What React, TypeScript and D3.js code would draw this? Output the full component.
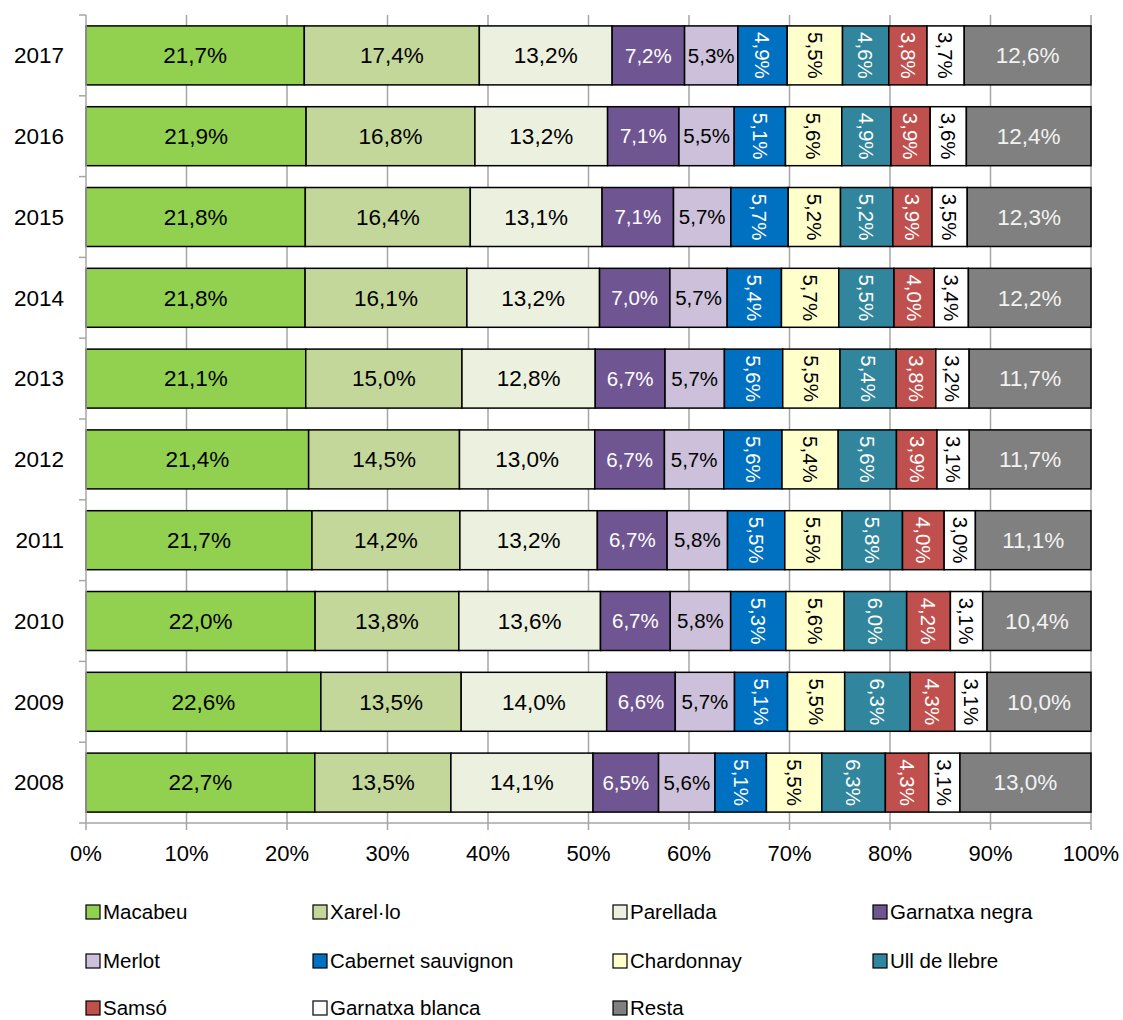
import React, { useEffect, useRef } from 'react';
import * as d3 from 'd3';

// data
const years = ['2017', '2016', '2015', '2014', '2013', '2012', '2011', '2010', '2009', '2008'];
const varieties = ['Macabeu', 'Xarel·lo', 'Parellada', 'Garnatxa negra', 'Merlot', 'Cabernet sauvignon', 'Chardonnay', 'Ull de llebre', 'Samsó', 'Garnatxa blanca', 'Resta'];
const values: number[][] = [
    [21.7, 17.4, 13.2, 7.2, 5.3, 4.9, 5.5, 4.6, 3.8, 3.7, 12.6],
    [21.9, 16.8, 13.2, 7.1, 5.5, 5.1, 5.6, 4.9, 3.9, 3.6, 12.4],
    [21.8, 16.4, 13.1, 7.1, 5.7, 5.7, 5.2, 5.2, 3.9, 3.5, 12.3],
    [21.8, 16.1, 13.2, 7.0, 5.7, 5.4, 5.7, 5.5, 4.0, 3.4, 12.2],
    [21.1, 15.0, 12.8, 6.7, 5.7, 5.6, 5.5, 5.4, 3.8, 3.2, 11.7],
    [21.4, 14.5, 13.0, 6.7, 5.7, 5.6, 5.4, 5.6, 3.9, 3.1, 11.7],
    [21.7, 14.2, 13.2, 6.7, 5.8, 5.5, 5.5, 5.8, 4.0, 3.0, 11.1],
    [22.0, 13.8, 13.6, 6.7, 5.8, 5.3, 5.6, 6.0, 4.2, 3.1, 10.4],
    [22.6, 13.5, 14.0, 6.6, 5.7, 5.1, 5.5, 6.3, 4.3, 3.1, 10.0],
    [22.7, 13.5, 14.1, 6.5, 5.6, 5.1, 5.5, 6.3, 4.3, 3.1, 13.0],
];
const xTicks = [0, 0.1, 0.2, 0.3, 0.4, 0.5, 0.6, 0.7, 0.8, 0.9, 1];

const colors = ['#92D050', '#C4D79B', '#EBF1DE', '#6F5592', '#CCC0DA', '#0070C0', '#FFFFCC', '#31859C', '#C0504D', '#FFFFFF', '#808080'];
const labelColors = ['#000', '#000', '#000', '#fff', '#000', '#fff', '#000', '#fff', '#fff', '#000', '#F2F2F2'];
const rotated = [false, false, false, false, false, true, true, true, true, true, false];
const labelSizes = [22.5, 22.5, 22.5, 20.5, 20.5, 20.5, 20.5, 20.5, 20.5, 20.5, 22.5];

const W = 1123, H = 1020;
const FONT = 'Liberation Sans, Arial, sans-serif';

const App = () => {
    const svgRef = useRef<SVGSVGElement>(null);

    useEffect(() => {
        const svg = d3.select(svgRef.current);
        svg.selectAll('*').remove();

        const x = d3.scaleLinear().domain([0, 1]).range([86, 1091]);
        const y = d3.scaleBand().domain(years).range([15, 823]).paddingInner(0.27).paddingOuter(0.135);
        const yEdges = d3.scaleLinear().domain([0, years.length]).range([15, 823]);

        // gridlines
        svg.append('g').selectAll('line')
            .data(xTicks.slice(1))
            .enter().append('line')
            .attr('x1', d => x(d)).attr('x2', d => x(d))
            .attr('y1', 15).attr('y2', 823)
            .attr('stroke', '#A6A6A6').attr('stroke-width', 1.5);

        // stacked rows (100% stacked)
        const rows = years.map((yr, i) => {
            const total = d3.sum(values[i]);
            let acc = 0;
            return values[i].map((v, j) => {
                const x0 = acc / total;
                acc += v;
                return { yr, j, v, x0, x1: acc / total };
            });
        });

        const seg = svg.append('g').selectAll('g')
            .data(rows.flat())
            .enter().append('g');

        seg.append('rect')
            .attr('x', d => x(d.x0))
            .attr('y', d => y(d.yr)!)
            .attr('width', d => x(d.x1) - x(d.x0))
            .attr('height', y.bandwidth())
            .attr('fill', d => colors[d.j])
            .attr('stroke', '#000')
            .attr('stroke-width', 1.5);

        seg.append('text')
            .attr('transform', d => {
                const cx = (x(d.x0) + x(d.x1)) / 2;
                const cy = y(d.yr)! + y.bandwidth() / 2;
                return `translate(${cx},${cy})${rotated[d.j] ? ' rotate(90)' : ''}`;
            })
            .attr('text-anchor', 'middle')
            .attr('dy', '0.35em')
            .attr('font-family', FONT)
            .attr('font-size', d => labelSizes[d.j])
            .attr('fill', d => labelColors[d.j])
            .text(d => d.v.toFixed(1).replace('.', ',') + '%');

        // axes
        const axisColor = '#A6A6A6';
        svg.append('line')
            .attr('x1', 86).attr('x2', 86).attr('y1', 15).attr('y2', 823)
            .attr('stroke', axisColor).attr('stroke-width', 1.5);
        svg.append('line')
            .attr('x1', 86).attr('x2', 1091).attr('y1', 823).attr('y2', 823)
            .attr('stroke', axisColor).attr('stroke-width', 1.5);
        svg.append('g').selectAll('line')
            .data(d3.range(years.length + 1))
            .enter().append('line')
            .attr('x1', 79).attr('x2', 86)
            .attr('y1', d => yEdges(d)).attr('y2', d => yEdges(d))
            .attr('stroke', axisColor).attr('stroke-width', 1.5);
        svg.append('g').selectAll('line')
            .data(xTicks)
            .enter().append('line')
            .attr('x1', d => x(d)).attr('x2', d => x(d))
            .attr('y1', 823).attr('y2', 830)
            .attr('stroke', axisColor).attr('stroke-width', 1.5);

        svg.append('g').selectAll('text')
            .data(xTicks)
            .enter().append('text')
            .attr('x', d => x(d)).attr('y', 861)
            .attr('text-anchor', 'middle')
            .attr('font-family', FONT).attr('font-size', 22)
            .text(d => d3.format('.0%')(d));

        svg.append('g').selectAll('text')
            .data(years)
            .enter().append('text')
            .attr('x', 64).attr('y', d => y(d)! + y.bandwidth() / 2)
            .attr('dy', '0.35em')
            .attr('text-anchor', 'end')
            .attr('font-family', FONT).attr('font-size', 22.5)
            .text(d => d);

        // legend
        const colX = [86, 313, 613, 873];
        const rowY = [912, 961, 1008];
        const leg = svg.append('g').selectAll('g')
            .data(varieties)
            .enter().append('g')
            .attr('transform', (d, i) => `translate(${colX[i % 4]},${rowY[Math.floor(i / 4)]})`);
        leg.append('rect')
            .attr('x', 0).attr('y', -7).attr('width', 14).attr('height', 14)
            .attr('fill', (d, i) => colors[i])
            .attr('stroke', '#000').attr('stroke-width', 1.2);
        leg.append('text')
            .attr('x', 17).attr('dy', '0.35em')
            .attr('font-family', FONT).attr('font-size', 20.5)
            .text(d => d);
    }, []);

    return (
        <div style={{ position: 'absolute', left: 0, top: 0 }}>
            <svg ref={svgRef} width={W} height={H} style={{ background: '#fff', display: 'block' }}></svg>
        </div>
    );
};

export default App;
